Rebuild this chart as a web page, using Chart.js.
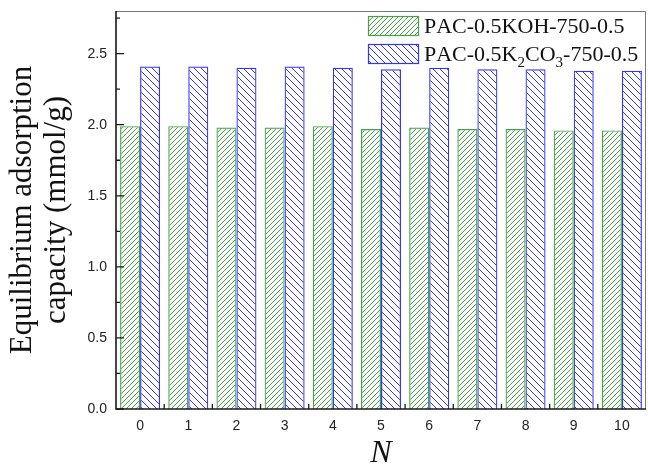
<!DOCTYPE html>
<html>
<head>
<meta charset="utf-8">
<script src="https://cdn.jsdelivr.net/npm/chart.js@4.4.0/dist/chart.umd.min.js"></script>
<style>
    html, body { margin:0; padding:0; background:#fff; }
    #wrap { width:648px; height:466px; position:relative; }
</style>
</head>
<body>
<div id="wrap"><canvas id="cycle-chart"></canvas></div>
<script>
// adsorption capacity after N regeneration cycles
const cycles = ["0","1","2","3","4","5","6","7","8","9","10"];
const koh_label = "PAC-0.5KOH-750-0.5";
const k2co3_label = "PAC-0.5K₂CO₃-750-0.5";
const koh_values = [1.99, 1.99, 1.98, 1.98, 1.99, 1.97, 1.98, 1.97, 1.97, 1.96, 1.96];
const k2co3_values = [2.41, 2.41, 2.40, 2.41, 2.40, 2.39, 2.40, 2.39, 2.39, 2.38, 2.38];
const y_ticks = [0, 0.5, 1.0, 1.5, 2.0, 2.5];

const serif = "'Liberation Serif', 'Times New Roman', serif";
const sans = "'Liberation Sans', Arial, sans-serif";

const GREEN = "#44a444";
const BLUE = "#3434f4";

function make_hatch(color, dir, gap){
    let c = document.createElement("canvas");
    c.width = gap;
    c.height = gap;
    let g = c.getContext("2d");
    g.strokeStyle = color;
    g.lineWidth = 1;
    g.beginPath();
    if(dir === "/"){
        g.moveTo(0, gap); g.lineTo(gap, 0);
        g.moveTo(-2, 2); g.lineTo(2, -2);
        g.moveTo(gap-2, gap+2); g.lineTo(gap+2, gap-2);
    }
    else{
        g.moveTo(0, 0); g.lineTo(gap, gap);
        g.moveTo(gap-2, -2); g.lineTo(gap+2, 2);
        g.moveTo(-2, gap-2); g.lineTo(2, gap+2);
    }
    g.stroke();
    return g.createPattern(c, "repeat");
}

// left/bottom axes, top/right frame and inward ticks
const frame_plugin = {
    id: "frame",
    afterDatasetsDraw(chart){
        const {ctx, chartArea: a, scales: {x, y}} = chart;
        ctx.save();
        ctx.strokeStyle = "#777";
        ctx.lineWidth = 1;
        ctx.beginPath();
        ctx.moveTo(a.left, a.top + 0.5);
        ctx.lineTo(a.right - 0.5, a.top + 0.5);
        ctx.lineTo(a.right - 0.5, a.bottom);
        ctx.stroke();

        ctx.strokeStyle = "#1a1a1a";
        ctx.lineWidth = 1.6;
        ctx.beginPath();
        ctx.moveTo(a.left, a.top);
        ctx.lineTo(a.left, a.bottom);
        ctx.lineTo(a.right, a.bottom);
        ctx.stroke();

        ctx.lineWidth = 1.3;
        ctx.beginPath();
        for(let i = 0; i * 0.25 <= y.max; i++){
            let py = y.getPixelForValue(i * 0.25);
            let len = i % 2 === 0 ? 8 : 4;
            ctx.moveTo(a.left, py);
            ctx.lineTo(a.left + len, py);
        }
        for(let i = 1; i < cycles.length; i++){
            let px = (x.getPixelForValue(i - 1) + x.getPixelForValue(i)) / 2;
            ctx.moveTo(px, a.bottom);
            ctx.lineTo(px, a.bottom - 5);
        }
        ctx.stroke();
        ctx.restore();
    }
};

// legend with hatched swatches and subscripted formula
const subs = {"₂": "2", "₃": "3"};
function draw_label(ctx, text, x, y){
    for(const ch of text){
        if(subs[ch]){
            ctx.font = "15px " + serif;
            ctx.fillText(subs[ch], x, y + 6);
            x += ctx.measureText(subs[ch]).width;
        }
        else{
            ctx.font = "22px " + serif;
            ctx.fillText(ch, x, y);
            x += ctx.measureText(ch).width;
        }
    }
}

const legend_plugin = {
    id: "hatchLegend",
    afterDraw(chart){
        const ctx = chart.ctx;
        ctx.save();
        ctx.textBaseline = "alphabetic";
        chart.data.datasets.forEach((ds, i) => {
            let top = 16 + i * 28;
            ctx.fillStyle = ds.backgroundColor;
            ctx.fillRect(368, top, 50, 19);
            ctx.strokeStyle = ds.borderColor;
            ctx.lineWidth = 1.2;
            ctx.strokeRect(368.5, top + 0.5, 50, 19);
            ctx.fillStyle = "#111";
            draw_label(ctx, ds.label, 424, top + 17);
        });
        ctx.restore();
    }
};

function set_up_chart(){
    let canvas = document.querySelector("#cycle-chart");
    new Chart(canvas, {
        type: "bar",
        data: {
            labels: cycles,
            datasets: [{
                label: koh_label,
                data: koh_values,
                backgroundColor: make_hatch(GREEN, "/", 5),
                borderColor: GREEN,
                borderWidth: 1.2,
                categoryPercentage: 0.83,
                barPercentage: 1.0
            }, {
                label: k2co3_label,
                data: k2co3_values,
                backgroundColor: make_hatch(BLUE, "\\", 7),
                borderColor: BLUE,
                borderWidth: 1.2,
                categoryPercentage: 0.83,
                barPercentage: 1.0
            }]
        },
        options: {
            responsive: true,
            maintainAspectRatio: false,
            animation: false,
            layout: { padding: { top: 11, right: 2, left: 0, bottom: 0 } },
            plugins: {
                legend: { display: false },
                tooltip: { enabled: false }
            },
            scales: {
                x: {
                    grid: { display: false, drawTicks: false },
                    border: { display: false },
                    ticks: { font: { family: sans, size: 14 }, color: "#222", padding: 9 },
                    title: {
                        display: true,
                        text: "N",
                        color: "#111",
                        font: { family: serif, size: 32, style: "italic", lineHeight: 0.75 },
                        padding: 0
                    },
                    afterFit(s){
                        s.height = 57;
                        s.paddingLeft = 0;
                        s.paddingRight = 0;
                    }
                },
                y: {
                    min: 0,
                    max: 2.8,
                    grid: { display: false, drawTicks: false },
                    border: { display: false },
                    ticks: {
                        font: { family: sans, size: 14 },
                        color: "#222",
                        padding: 9,
                        callback: (v) => Number(v).toFixed(1)
                    },
                    afterBuildTicks(s){ s.ticks = y_ticks.map((v) => ({ value: v })); },
                    title: {
                        display: true,
                        text: ["Equilibrium adsorption", "capacity (mmol/g)"],
                        color: "#111",
                        font: { family: serif, size: 31, lineHeight: 1.1 },
                        padding: { top: 6, bottom: 0 }
                    },
                    afterFit(s){
                        s.width = 116;
                        s.paddingTop = 0;
                        s.paddingBottom = 0;
                    }
                }
            }
        },
        plugins: [frame_plugin, legend_plugin]
    });
}

set_up_chart();
</script>
</body>
</html>
